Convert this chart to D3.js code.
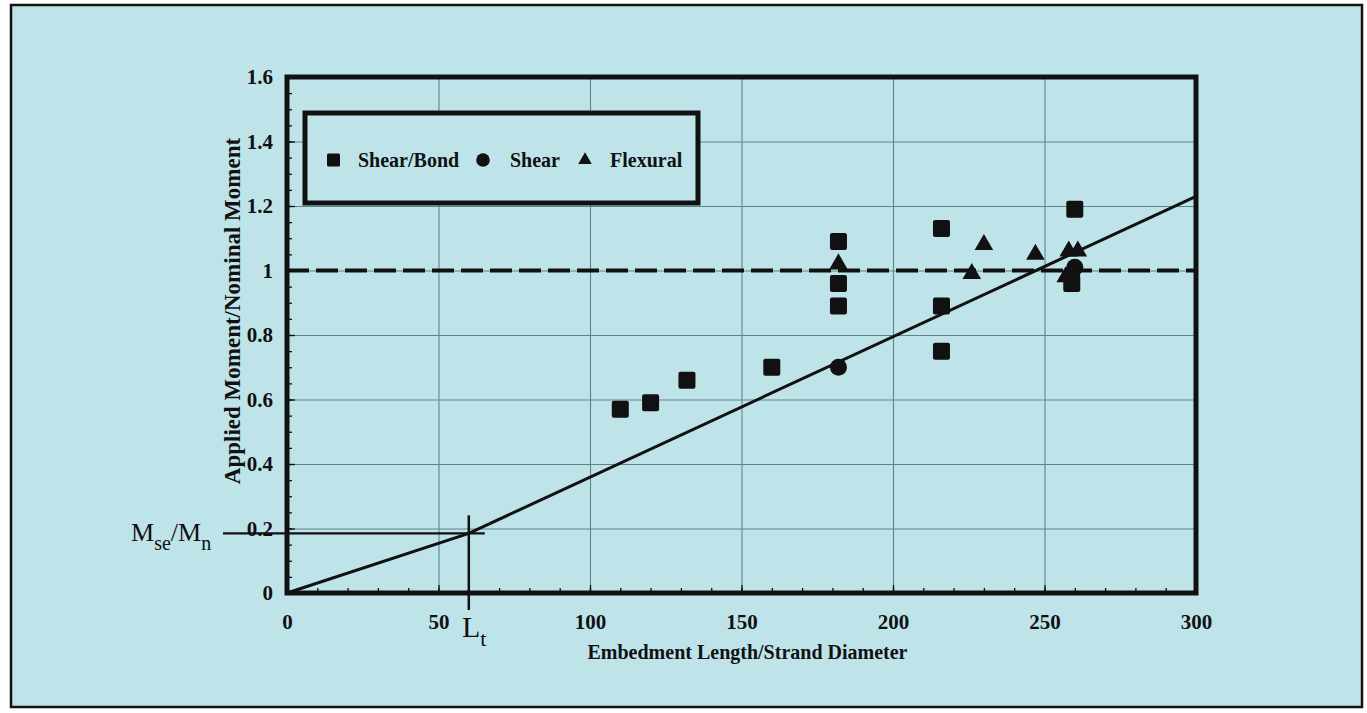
<!DOCTYPE html>
<html>
<head>
<meta charset="utf-8">
<script src="https://cdn.jsdelivr.net/npm/d3@7"></script>
<style>
  html, body { margin: 0; padding: 0; background: #ffffff; }
  svg { display: block; }
  text { font-family: "Liberation Serif", "Times New Roman", serif; fill: #111; }
</style>
</head>
<body>
<svg id="chart" width="1367" height="713"></svg>
<script>
// ---------- data ----------
const shearBondX = [110, 120, 132, 160, 182, 182, 182, 216, 216, 216, 260, 259];
const shearBondY = [0.57, 0.59, 0.66, 0.70, 1.09, 0.96, 0.89, 1.13, 0.89, 0.75, 1.19, 0.96];
const shearX = [182, 260, 259];
const shearY = [0.70, 1.01, 0.99];
const flexuralX = [182, 230, 226, 247, 258, 261, 257];
const flexuralY = [1.02, 1.08, 0.99, 1.05, 1.06, 1.06, 0.98];
const modelX = [0, 60, 300];
const modelY = [0, 0.185, 1.23];
const Lt = 60;
const MseMn = 0.185;
const nominalLevel = 1.0;
const xTicks = [0, 50, 100, 150, 200, 250, 300];
const yTicks = [0, 0.2, 0.4, 0.6, 0.8, 1, 1.2, 1.4, 1.6];
const xTickLabels = ["0", "50", "100", "150", "200", "250", "300"];
const yTickLabels = ["0", "0.2", "0.4", "0.6", "0.8", "1", "1.2", "1.4", "1.6"];
const xMinorTicks = d3.range(0, 301, 10);
const yMinorTicks = d3.range(0, 1.6001, 0.05);
const legendNames = ["Shear/Bond", "Shear", "Flexural"];
const xTitle = "Embedment Length/Strand Diameter";
const yTitle = "Applied Moment/Nominal Moment";

// ---------- layout ----------
const svg = d3.select("#chart");
const bg = "#bee4ea";
const ink = "#111111";
const gridColor = "#5f8489";
const L = 287, R = 1196, T = 77, B = 593;

const x = d3.scaleLinear().domain([0, 300]).range([L, R]);
const y = d3.scaleLinear().domain([0, 1.6]).range([B, T]);

// outer frame
svg.append("rect").attr("x", 11).attr("y", 5).attr("width", 1351).attr("height", 702)
  .attr("fill", bg).attr("stroke", ink).attr("stroke-width", 2.5);

// grid
const gx = svg.append("g").attr("transform", `translate(0,${B})`)
  .call(d3.axisBottom(x).tickValues(xTicks.slice(1, -1)).tickSize(-(B - T)).tickFormat(""));
gx.select(".domain").remove();
gx.selectAll("line").attr("stroke", gridColor).attr("stroke-width", 1.1);

const gy = svg.append("g").attr("transform", `translate(${L},0)`)
  .call(d3.axisLeft(y).tickValues(yTicks.slice(1, -1)).tickSize(-(R - L)).tickFormat(""));
gy.select(".domain").remove();
gy.selectAll("line").attr("stroke", gridColor).attr("stroke-width", 1.1);

// minor ticks (inward)
const mx = svg.append("g").attr("transform", `translate(0,${B})`)
  .call(d3.axisBottom(x).tickValues(xMinorTicks).tickSize(-5).tickFormat(""));
mx.select(".domain").remove();
mx.selectAll("line").attr("stroke", ink).attr("stroke-width", 1.3);
const my = svg.append("g").attr("transform", `translate(${L},0)`)
  .call(d3.axisLeft(y).tickValues(yMinorTicks).tickSize(-5).tickFormat(""));
my.select(".domain").remove();
my.selectAll("line").attr("stroke", ink).attr("stroke-width", 1.3);

// major axes with labels
const ax = svg.append("g").attr("transform", `translate(0,${B})`)
  .call(d3.axisBottom(x).tickValues(xTicks).tickSize(-8).tickPadding(21)
    .tickFormat((d, i) => xTickLabels[i]));
ax.select(".domain").remove();
ax.selectAll("line").attr("stroke", ink).attr("stroke-width", 1.3);
ax.selectAll("text").attr("font-size", 21).attr("font-weight", "bold").attr("fill", ink)
  .style("font-family", "'Liberation Serif', serif");

const ay = svg.append("g").attr("transform", `translate(${L},0)`)
  .call(d3.axisLeft(y).tickValues(yTicks).tickSize(-8).tickPadding(14)
    .tickFormat((d, i) => yTickLabels[i]));
ay.select(".domain").remove();
ay.selectAll("line").attr("stroke", ink).attr("stroke-width", 1.3);
ay.selectAll("text").attr("font-size", 21).attr("font-weight", "bold").attr("fill", ink)
  .style("font-family", "'Liberation Serif', serif");

// dashed nominal line
svg.append("line")
  .attr("x1", x(0)).attr("x2", x(300)).attr("y1", y(nominalLevel)).attr("y2", y(nominalLevel))
  .attr("stroke", ink).attr("stroke-width", 4).attr("stroke-dasharray", "22,7");

// model line
const line = d3.line().x(d => x(d[0])).y(d => y(d[1]));
svg.append("path").datum(modelX.map((v, i) => [v, modelY[i]]))
  .attr("d", line).attr("fill", "none").attr("stroke", ink).attr("stroke-width", 3);

// Lt / Mse markers
svg.append("line")
  .attr("x1", x(Lt)).attr("x2", x(Lt)).attr("y1", y(MseMn) - 18).attr("y2", B + 17)
  .attr("stroke", ink).attr("stroke-width", 2.5);
svg.append("line")
  .attr("x1", 223).attr("x2", x(Lt) + 16).attr("y1", y(MseMn)).attr("y2", y(MseMn))
  .attr("stroke", ink).attr("stroke-width", 2.2);

// plot border
svg.append("rect").attr("x", L).attr("y", T).attr("width", R - L).attr("height", B - T)
  .attr("fill", "none").attr("stroke", ink).attr("stroke-width", 5);

// markers
const sq = 17;
svg.append("g").selectAll("rect").data(shearBondX.map((v, i) => [v, shearBondY[i]]))
  .join("rect")
  .attr("x", d => x(d[0]) - sq / 2).attr("y", d => y(d[1]) - sq / 2)
  .attr("width", sq).attr("height", sq).attr("rx", 2).attr("fill", ink);

svg.append("g").selectAll("circle").data(shearX.map((v, i) => [v, shearY[i]]))
  .join("circle")
  .attr("cx", d => x(d[0])).attr("cy", d => y(d[1])).attr("r", 8.5).attr("fill", ink);

const tri = d3.symbol().type(d3.symbolTriangle).size(150);
svg.append("g").selectAll("path").data(flexuralX.map((v, i) => [v, flexuralY[i]]))
  .join("path")
  .attr("d", tri).attr("transform", d => `translate(${x(d[0])},${y(d[1])})`).attr("fill", ink);

// legend
const lg = svg.append("g");
lg.append("rect").attr("x", 305).attr("y", 113).attr("width", 393).attr("height", 90)
  .attr("fill", bg).attr("stroke", ink).attr("stroke-width", 5);
const ly = 160;
lg.append("rect").attr("x", 327).attr("y", ly - 6.5).attr("width", 13).attr("height", 13).attr("rx", 1.5).attr("fill", ink);
lg.append("circle").attr("cx", 483).attr("cy", ly).attr("r", 6.8).attr("fill", ink);
lg.append("path").attr("d", d3.symbol().type(d3.symbolTriangle).size(80))
  .attr("transform", `translate(585,${ly})`).attr("fill", ink);
const legX = [358, 510, 610];
legendNames.forEach((n, i) => {
  lg.append("text").attr("x", legX[i]).attr("y", ly + 7).attr("font-size", 20)
    .attr("font-weight", "bold").text(n);
});

// axis titles
svg.append("text").attr("x", (L + R) / 2).attr("y", 659)
  .attr("text-anchor", "middle").attr("font-size", 20).attr("font-weight", "bold")
  .attr("transform", "translate(6,0)").text(xTitle);
svg.append("text").attr("transform", "translate(240,311) rotate(-90)")
  .attr("text-anchor", "middle").attr("font-size", 23).attr("font-weight", "bold").text(yTitle);

// annotation labels
const ms = svg.append("text").attr("x", 131).attr("y", 541).attr("font-size", 26);
ms.append("tspan").text("M");
ms.append("tspan").attr("font-size", 20).attr("dy", 9).text("se");
ms.append("tspan").attr("dy", -9).text("/M");
ms.append("tspan").attr("font-size", 20).attr("dy", 9).text("n");

const lt = svg.append("text").attr("x", 462).attr("y", 637).attr("font-size", 30);
lt.append("tspan").text("L");
lt.append("tspan").attr("font-size", 22).attr("dy", 9).text("t");
</script>
</body>
</html>
